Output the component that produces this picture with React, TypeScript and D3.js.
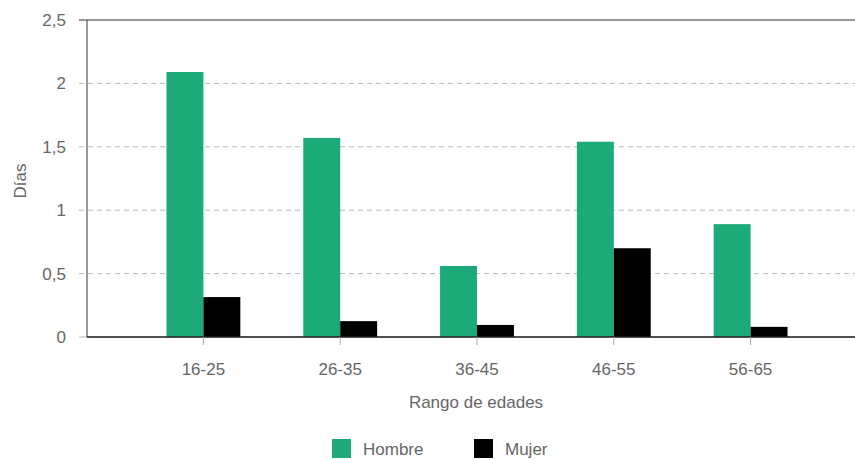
import React from "react";
import * as d3 from "d3";

const categories = ["16-25", "26-35", "36-45", "46-55", "56-65"];
const seriesNames = ["Hombre", "Mujer"];
const hombre = [2.09, 1.57, 0.56, 1.54, 0.89];
const mujer = [0.315, 0.125, 0.095, 0.7, 0.08];
const yTicks = [0, 0.5, 1, 1.5, 2, 2.5];
const colors = ["#1daa79", "#000000"];

const W = 855, H = 460;
const left = 87, right = 855, top = 20, bottom = 337;

export default function App() {
  const y = d3.scaleLinear().domain([0, 2.5]).range([bottom, top]);
  const x = d3.scaleBand().domain(categories).range([135, 819]).paddingInner(0.46).paddingOuter(0.23);
  const xs = d3.scaleBand().domain(seriesNames).range([0, x.bandwidth()]);
  const fmt = (v: number) => String(v).replace(".", ",");
  const series = [hombre, mujer];
  const font = "'Liberation Sans', Arial, Helvetica, sans-serif";
  const fs = 17;
  return (
    <svg width={W} height={H} style={{ position: "absolute", left: 0, top: 0, fontFamily: font }}>
      {yTicks.map((t) => (
        <g key={t}>
          <line x1={79} x2={right} y1={y(t)} y2={y(t)}
            stroke={t === 2.5 ? "#777" : "#bbb"} strokeWidth={t === 2.5 ? 1.5 : 1}
            strokeDasharray={t === 2.5 || t === 0 ? undefined : "5,4"} />
          <text x={66} y={y(t)} dy="0.35em" textAnchor="end" fontSize={fs} fill="#666">{fmt(t)}</text>
        </g>
      ))}
      {categories.map((c, i) =>
        series.map((s, j) => (
          <rect key={c + j} x={(x(c) as number) + (xs(seriesNames[j]) as number)} width={xs.bandwidth()}
            y={y(s[i])} height={bottom - y(s[i])} fill={colors[j]} />
        ))
      )}
      <line x1={left} x2={left} y1={top} y2={bottom} stroke="#555" strokeWidth={1.2} />
      <line x1={left} x2={right} y1={bottom} y2={bottom} stroke="#222" strokeWidth={1.5} />
      {categories.map((c) => {
        const cx = (x(c) as number) + x.bandwidth() / 2;
        return (
          <g key={c}>
            <line x1={cx} x2={cx} y1={bottom} y2={bottom + 8} stroke="#aaa" />
            <text x={cx} y={375} textAnchor="middle" fontSize={fs} fill="#666">{c}</text>
          </g>
        );
      })}
      <text x={476} y={408} textAnchor="middle" fontSize={fs} fill="#666">Rango de edades</text>
      <text transform="translate(26,181) rotate(-90)" textAnchor="middle" fontSize={fs} fill="#666">Días</text>
      {seriesNames.map((n, j) => (
        <g key={n} transform={`translate(${332 + j * 142},439)`}>
          <rect width={19} height={19} fill={colors[j]} />
          <text x={31} y={10} dy="0.35em" fontSize={fs} fill="#666">{n}</text>
        </g>
      ))}
    </svg>
  );
}
